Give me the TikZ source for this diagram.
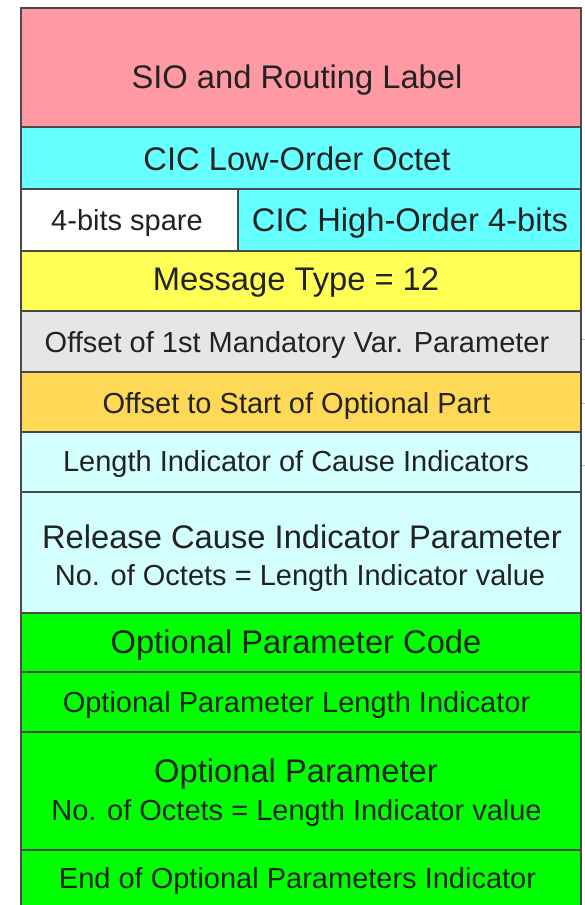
\documentclass[tikz,border=0pt]{standalone}
\usepackage{fontspec}
\setmainfont{Liberation Sans}
\definecolor{sioPink}{HTML}{FF99A3}
\definecolor{cicCyan}{HTML}{66FFFF}
\definecolor{msgYellow}{HTML}{FFFF55}
\definecolor{offGray}{HTML}{E6E6E6}
\definecolor{optOrange}{HTML}{FFD955}
\definecolor{relCyan}{HTML}{D4FFFF}
\definecolor{optGreen}{HTML}{00FF00}
\definecolor{frameGray}{HTML}{4A4A4A}
\definecolor{inkDark}{HTML}{222222}
\begin{document}
\begin{tikzpicture}[x=1pt,y=-1pt,
  field/.style={draw=frameGray, line width=1.5pt, line join=miter},
  big/.style={font=\fontsize{32.7}{37}\selectfont, text=inkDark, anchor=base, inner sep=0pt},
  small/.style={font=\fontsize{29}{34}\selectfont, text=inkDark, anchor=base, inner sep=0pt}]
\useasboundingbox (0,0) rectangle (585,905);

% message fields, top to bottom
\path[field, fill=sioPink]   (21,8)   rectangle (581,127);
\path[field, fill=cicCyan]   (21,127) rectangle (581,189);
\path[field, fill=white]     (21,189) rectangle (238,251);
\path[field, fill=cicCyan]   (238,189) rectangle (581,251);
\path[field, fill=msgYellow] (21,251) rectangle (581,311);
\path[field, fill=offGray]   (21,311) rectangle (581,372);
\path[field, fill=optOrange] (21,372) rectangle (581,432);
\path[field, fill=relCyan]   (21,432) rectangle (581,492);
\path[field, fill=relCyan]   (21,492) rectangle (581,613);
\path[field, fill=optGreen]  (21,613) rectangle (581,672);
\path[field, fill=optGreen]  (21,672) rectangle (581,732);
\path[field, fill=optGreen]  (21,732) rectangle (581,850);
% last field runs off the bottom edge
\fill[optGreen] (21,850) rectangle (581,906);
\draw[frameGray, line width=1.5pt] (21,906) -- (21,850) -- (581,850) -- (581,906);

% faint ticks right of the frame
\foreach \ty in {339,403,465}
  \draw[gray!55, line width=1pt] (582,\ty) -- (585,\ty);

% field labels
\node[big]   (sio)    at (297,88)    {SIO and Routing Label};
\node[big]   (ciclo)  at (297,170)   {CIC Low-Order Octet};
\node[small] (spare)  at (127,230.5) {4-bits spare};
\node[big]   (cichi)  at (410,231)   {CIC High-Order 4-bits};
\node[big]   (mtype)  at (296,290)   {Message Type = 12};
\node[small] (off1)   at (297,352.5) {Offset of 1st Mandatory Var. Parameter};
\node[small] (offopt) at (296.5,413) {Offset to Start of Optional Part};
\node[small] (lenind) at (296,471)   {Length Indicator of Cause Indicators};
\node[big]   (rel)    at (302,548)   {Release Cause Indicator Parameter};
\node[small] (relno)  at (300,585)   {No. of Octets = Length Indicator value};
\node[big]   (opcode) at (296,653)   {Optional Parameter Code};
\node[small] (oplen)  at (296.5,712) {Optional Parameter Length Indicator};
\node[big]   (opt)    at (296,782)   {Optional Parameter};
\node[small] (optno)  at (296.5,820) {No. of Octets = Length Indicator value};
\node[small] (eop)    at (297.5,888) {End of Optional Parameters Indicator};
\end{tikzpicture}
\end{document}
